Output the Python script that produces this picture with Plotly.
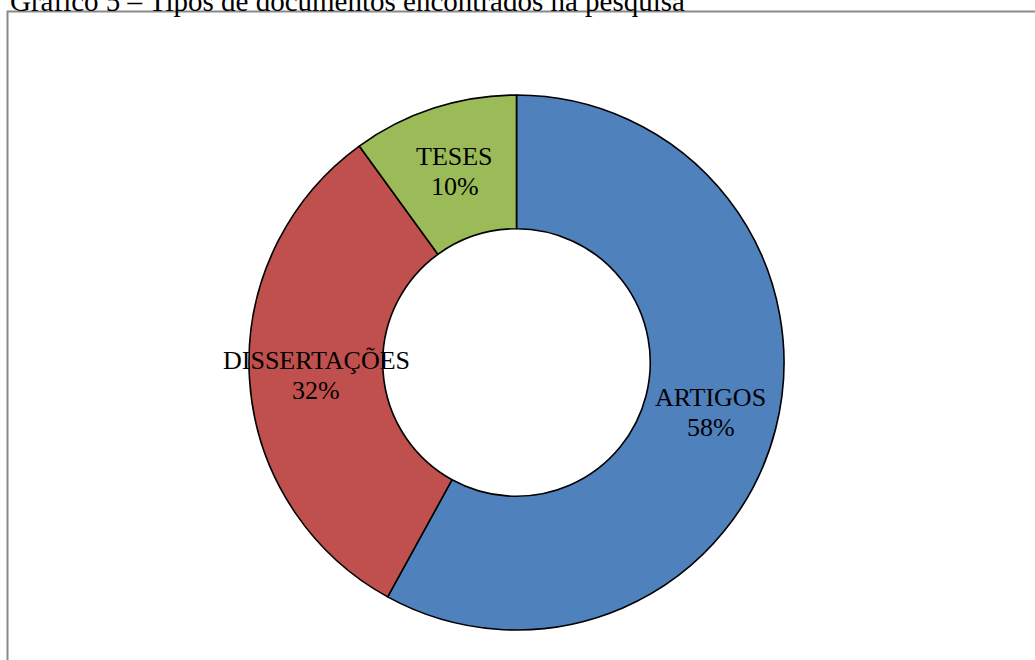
import math
import plotly.graph_objects as go

# Document types found in the survey (share of total)
categories = ["ARTIGOS", "DISSERTAÇÕES", "TESES"]
values = [58, 32, 10]
colors = ["#4F81BD", "#C0504D", "#9BBB59"]

title_text = "Gráfico 5 – Tipos de documentos encontrados na pesquisa"

W, H = 1035, 660
SERIF = "Liberation Serif, Times New Roman, serif"
HOLE = 0.5

# donut placement (pixels)
cx, cy, R = 516.5, 362.5, 267.5

fig = go.Figure(
    go.Pie(
        labels=categories,
        values=values,
        sort=False,
        direction="clockwise",
        rotation=0,
        hole=HOLE,
        marker=dict(colors=colors, line=dict(color="#000000", width=1.6)),
        textinfo="none",
        hoverinfo="label+percent",
        domain=dict(x=[(cx - R) / W, (cx + R) / W],
                    y=[1 - (cy + R) / H, 1 - (cy - R) / H]),
        showlegend=False,
    )
)

# slice labels: name and percentage centred in the middle of each ring segment
annotations = []
total = sum(values)
cum = 0.0
r_mid = R * (1 + HOLE) / 2
for name, v in zip(categories, values):
    frac = (cum + v / 2) / total
    cum += v
    ang = 2 * math.pi * frac
    px = cx + r_mid * math.sin(ang)
    py = cy - r_mid * math.cos(ang)
    pct = f"{round(100 * v / total)}%"
    for txt, dy in ((name, -15), (pct, 15)):
        annotations.append(dict(
            text=txt,
            xref="paper", yref="paper",
            x=px / W, y=1 - (py + dy) / H,
            xanchor="center", yanchor="middle",
            showarrow=False,
            font=dict(family=SERIF, size=26, color="#000000"),
        ))

annotations.append(dict(
    text=title_text,
    xref="paper", yref="paper",
    x=8 / W, y=1,
    xanchor="left", yanchor="top",
    yshift=17,
    showarrow=False,
    font=dict(family=SERIF, size=29, color="#000000"),
))

fig.update_layout(
    width=W,
    height=H,
    margin=dict(l=0, r=0, t=0, b=0),
    paper_bgcolor="#FFFFFF",
    plot_bgcolor="#FFFFFF",
    shapes=[
        dict(
            type="rect",
            xref="paper", yref="paper",
            x0=7.5 / W, x1=1.02,
            y0=-0.02, y1=(H - 11.5) / H,
            line=dict(color="#898989", width=2),
            fillcolor="rgba(0,0,0,0)",
            layer="below",
        )
    ],
    annotations=annotations,
)

fig.write_html("out.html")
